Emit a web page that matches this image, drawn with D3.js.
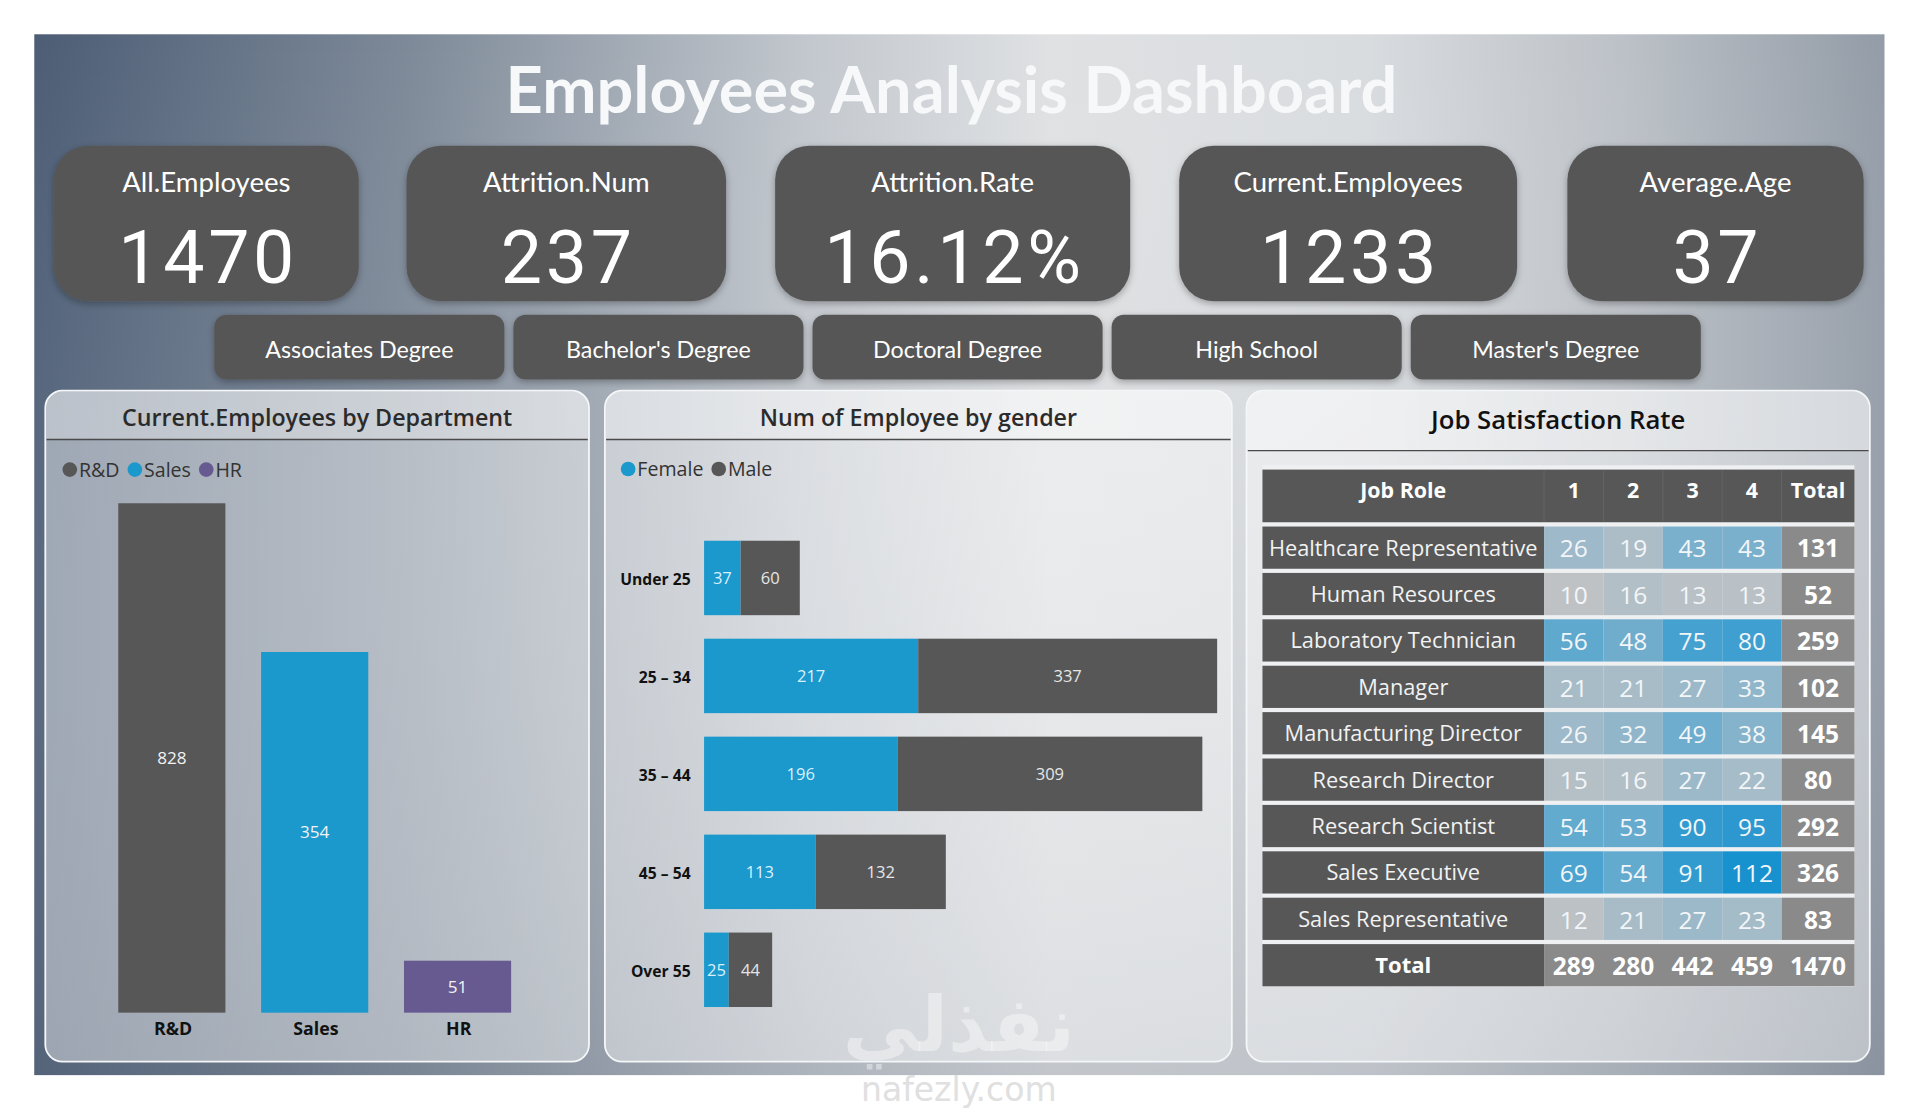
<!DOCTYPE html>
<html>
<head>
<meta charset="utf-8">
<script src="https://cdn.jsdelivr.net/npm/d3@7"></script>
<style>
    html, body { margin: 0; padding: 0; background: #fff; }
    svg { display: block; }
    text { font-family: "Open Sans", "Noto Sans", sans-serif; }
</style>
</head>
<body>
<div id="chart"></div>
<script>
// ---- data ----
const kpiLabels = ['All.Employees', 'Attrition.Num', 'Attrition.Rate', 'Current.Employees', 'Average.Age'];
const kpiValues = ['1470', '237', '16.12%', '1233', '37'];
const degrees = ['Associates Degree', "Bachelor's Degree", 'Doctoral Degree', 'High School', "Master's Degree"];

const departments = ['R&D', 'Sales', 'HR'];
const deptCurrent = [828, 354, 51];

const ageGroups = ['Under 25', '25 – 34', '35 – 44', '45 – 54', 'Over 55'];
const femaleCounts = [37, 217, 196, 113, 25];
const maleCounts = [60, 337, 309, 132, 44];

const jobRoles = ['Healthcare Representative', 'Human Resources', 'Laboratory Technician', 'Manager',
    'Manufacturing Director', 'Research Director', 'Research Scientist', 'Sales Executive', 'Sales Representative'];
const satLevels = ['1', '2', '3', '4'];
const satCounts = [
    [26, 19, 43, 43],
    [10, 16, 13, 13],
    [56, 48, 75, 80],
    [21, 21, 27, 33],
    [26, 32, 49, 38],
    [15, 16, 27, 22],
    [54, 53, 90, 95],
    [69, 54, 91, 112],
    [12, 21, 27, 23]
];

// ---- layout (drawn in the picture's own 1568 wide space, scaled to 1920) ----
const W = 1568, H = 906.5;
const DARK = '#575757', BLUE = '#1b98cc', PURPLE = '#665a91';

const svg = d3.select('#chart').append('svg')
    .attr('width', 1920)
    .attr('height', 1110)
    .attr('viewBox', `0 0 ${W} ${H}`);

const defs = svg.append('defs');
const bg = defs.append('linearGradient').attr('id', 'bg').attr('x1', 0).attr('x2', 1).attr('y1', 0).attr('y2', 0);
[[0, '#4c5d75'], [0.2, '#7d8998'], [0.42, '#c3c8ce'], [0.55, '#dfe1e3'], [0.72, '#d9dcdf'], [0.86, '#bcc1c7'], [1, '#939ca7']]
    .forEach(([o, c]) => bg.append('stop').attr('offset', o).attr('stop-color', c));
const shade = defs.append('linearGradient').attr('id', 'shade').attr('x1', 0).attr('x2', 0).attr('y1', 0).attr('y2', 1);
shade.append('stop').attr('offset', 0).attr('stop-color', '#fff').attr('stop-opacity', 0);
shade.append('stop').attr('offset', 1).attr('stop-color', '#6d7786').attr('stop-opacity', 0.25);

const shadow = defs.append('filter').attr('id', 'shadow').attr('x', -0.1).attr('y', -0.1).attr('width', 1.2).attr('height', 1.3);
shadow.append('feDropShadow').attr('dx', 0).attr('dy', 2).attr('stdDeviation', 3)
    .attr('flood-color', '#000').attr('flood-opacity', 0.3);

svg.append('rect').attr('x', 28).attr('y', 28).attr('width', 1511).attr('height', 850).attr('fill', 'url(#bg)');
svg.append('rect').attr('x', 28).attr('y', 28).attr('width', 1511).attr('height', 850).attr('fill', 'url(#shade)');

svg.append('text')
    .attr('x', 777).attr('y', 92)
    .attr('text-anchor', 'middle')
    .attr('fill', '#f7f8f9')
    .style('font-family', 'Lato, "Open Sans", sans-serif')
    .style('font-weight', 700)
    .style('font-size', '53px')
    .text('Employees Analysis Dashboard');

// ---- KPI cards ----
const kpiBoxes = [{x: 44, w: 249}, {x: 332, w: 261}, {x: 633, w: 290}, {x: 963, w: 276}, {x: 1280, w: 242}];
const cards = svg.append('g').selectAll('g').data(kpiLabels).join('g')
    .attr('transform', (d, i) => `translate(${kpiBoxes[i].x},119)`);
cards.append('rect')
    .attr('width', (d, i) => kpiBoxes[i].w).attr('height', 127).attr('rx', 28)
    .attr('fill', DARK).attr('filter', 'url(#shadow)');
cards.append('text')
    .attr('x', (d, i) => kpiBoxes[i].w / 2).attr('y', 38)
    .attr('text-anchor', 'middle').attr('fill', '#fff')
    .style('font-family', 'Lato, sans-serif').style('font-size', '22.5px')
    .text(d => d);
cards.append('text')
    .attr('x', (d, i) => kpiBoxes[i].w / 2 + 1.5).attr('y', 112)
    .attr('text-anchor', 'middle').attr('fill', '#fff')
    .style('font-family', 'Roboto, Lato, sans-serif').style('font-size', '60px')
    .style('letter-spacing', '3px')
    .text((d, i) => kpiValues[i]);

// ---- degree slicer buttons ----
const degX = d3.scaleBand().domain(degrees).range([175, 1389]).paddingInner(0.03);
const btn = svg.append('g').selectAll('g').data(degrees).join('g')
    .attr('transform', d => `translate(${degX(d)},257)`);
btn.append('rect').attr('width', degX.bandwidth()).attr('height', 53).attr('rx', 10)
    .attr('fill', DARK).attr('filter', 'url(#shadow)');
btn.append('text').attr('x', degX.bandwidth() / 2).attr('y', 35)
    .attr('text-anchor', 'middle').attr('fill', '#fff')
    .style('font-family', 'Lato, sans-serif').style('font-size', '19px')
    .text(d => d);

// ---- panels ----
const panels = [
    {x: 37, w: 444, title: 'Current.Employees by Department', line: 359, ty: 348, fs: 19},
    {x: 494, w: 512, title: 'Num of Employee by gender', line: 359, ty: 348, fs: 19},
    {x: 1018, w: 509, title: 'Job Satisfaction Rate', line: 368, ty: 350, fs: 21}
];
const pg = svg.append('g').selectAll('g').data(panels).join('g')
    .attr('transform', d => `translate(${d.x},319)`);
pg.append('rect').attr('width', d => d.w).attr('height', 548).attr('rx', 14)
    .attr('fill', '#fff').attr('fill-opacity', 0.42)
    .attr('stroke', '#f4f6f8').attr('stroke-width', 1.5);
pg.append('path')
    .attr('d', d => `M1,${d.line - 319} V14 Q1,1 14,1 H${d.w - 14} Q${d.w - 1},1 ${d.w - 1},14 V${d.line - 319} Z`)
    .attr('fill', '#fff').attr('fill-opacity', 0.3);
pg.append('line').attr('x1', 1).attr('x2', d => d.w - 1)
    .attr('y1', d => d.line - 319).attr('y2', d => d.line - 319)
    .attr('stroke', '#4a4a4a').attr('stroke-width', 1.2);
pg.append('text').attr('x', d => d.w / 2).attr('y', d => d.ty - 319)
    .attr('text-anchor', 'middle').attr('fill', d => d.fs > 20 ? '#111' : '#2b2b2b')
    .style('font-weight', 600).style('font-size', d => d.fs + 'px')
    .text(d => d.title);

function legend(items, x0, y) {
    const g = svg.append('g').attr('transform', `translate(${x0},${y})`);
    let x = 0;
    items.forEach(([label, color]) => {
        g.append('circle').attr('cx', x + 6).attr('cy', 0).attr('r', 6).attr('fill', color);
        const t = g.append('text').attr('x', x + 13.5).attr('y', 5.8).attr('fill', '#333')
            .style('font-size', '16px').text(label);
        x += t.node().getComputedTextLength() + 20;
    });
}

// ---- Current.Employees by Department ----
const deptColor = d3.scaleOrdinal().domain(departments).range([DARK, BLUE, PURPLE]);
const dx = d3.scaleBand().domain(departments).range([82, 432]).paddingInner(0.25).paddingOuter(0.125);
const dy = d3.scaleLinear().domain([0, 500]).range([827, 411]).clamp(true);
legend(departments.map(d => [d, deptColor(d)]), 51, 383.5);

const deptG = svg.append('g');
deptG.selectAll('rect').data(departments).join('rect')
    .attr('x', d => dx(d)).attr('width', dx.bandwidth())
    .attr('y', (d, i) => dy(deptCurrent[i])).attr('height', (d, i) => dy(0) - dy(deptCurrent[i]))
    .attr('fill', d => deptColor(d));
deptG.selectAll('text').data(departments).join('text')
    .attr('x', d => dx(d) + dx.bandwidth() / 2)
    .attr('y', (d, i) => (dy(deptCurrent[i]) + dy(0)) / 2 + 5)
    .attr('text-anchor', 'middle').attr('fill', '#f2f2f2')
    .style('font-size', '14px')
    .text((d, i) => deptCurrent[i]);
svg.append('g').attr('transform', 'translate(1,827)')
    .call(d3.axisBottom(dx).tickSize(0).tickPadding(8))
    .call(g => g.select('.domain').remove())
    .call(g => g.selectAll('text').attr('fill', '#111')
        .style('font-family', '"Open Sans", sans-serif').style('font-size', '14.5px').style('font-weight', 700));

// ---- Num of Employee by gender ----
legend([['Female', BLUE], ['Male', DARK]], 507, 383);
const ay = d3.scaleBand().domain(ageGroups).range([432, 832]).paddingInner(0.24).paddingOuter(0.12);
const ax = d3.scaleLinear().domain([0, 520]).range([575, 994]).clamp(true);
const genderRows = ageGroups.map((a, i) => ({age: a, Female: femaleCounts[i], Male: maleCounts[i]}));
const stack = d3.stack().keys(['Female', 'Male'])(genderRows);
const gColor = {Female: BLUE, Male: DARK};
const sg = svg.append('g').selectAll('g').data(stack).join('g');
sg.selectAll('rect').data(s => s.map(p => ({key: s.key, p}))).join('rect')
    .attr('x', d => ax(d.p[0])).attr('width', d => ax(d.p[1]) - ax(d.p[0]))
    .attr('y', d => ay(d.p.data.age)).attr('height', ay.bandwidth())
    .attr('fill', d => gColor[d.key]);
sg.selectAll('text').data(s => s.map(p => ({key: s.key, p}))).join('text')
    .attr('x', d => (ax(d.p[0]) + ax(d.p[1])) / 2)
    .attr('y', d => ay(d.p.data.age) + ay.bandwidth() / 2 + 5)
    .attr('text-anchor', 'middle')
    .attr('fill', d => d.key === 'Female' ? '#d9f1ff' : '#e6e6e6')
    .style('font-size', '13.5px')
    .text(d => d.p.data[d.key]);
svg.append('g').attr('transform', 'translate(575,1.5)')
    .call(d3.axisLeft(ay).tickSize(0).tickPadding(11))
    .call(g => g.select('.domain').remove())
    .call(g => g.selectAll('text').attr('fill', '#111')
        .style('font-family', '"Open Sans", sans-serif').style('font-size', '12.8px').style('font-weight', 700));

// ---- Job Satisfaction Rate table ----
const colX = d3.scaleBand().domain(satLevels).range([1261, 1455]);
const rowY = d3.scaleBand().domain([...jobRoles, 'Total']).range([430, 805.5]).paddingInner(0.09);
const heat = d3.scaleLinear().domain([10, 60, 112]).range(['#bfc2c5', '#57a7d0', '#1891cf']);
const roleX = 1031, roleW = 230, totX = 1455, totW = 59.5;
const rowTotals = satCounts.map(r => d3.sum(r));
const colTotals = satLevels.map((s, j) => d3.sum(satCounts, r => r[j]));
const grand = d3.sum(rowTotals);

const tg = svg.append('g');
tg.append('rect').attr('x', roleX).attr('y', 380).attr('width', totX + totW - roleX).attr('height', 426)
    .attr('fill', '#eef0f2');
// header
tg.append('rect').attr('x', roleX).attr('y', 383.5).attr('width', totX + totW - roleX).attr('height', 43)
    .attr('fill', DARK);
tg.selectAll('line.sep').data(satLevels.concat('T')).join('line').attr('class', 'sep')
    .attr('x1', d => d === 'T' ? totX : colX(d)).attr('x2', d => d === 'T' ? totX : colX(d))
    .attr('y1', 384).attr('y2', 426).attr('stroke', '#626262');
const headStyle = t => t.attr('fill', '#fff').style('font-weight', 700).style('font-size', '17.5px');
tg.append('text').attr('x', roleX + roleW / 2).attr('y', 407).attr('text-anchor', 'middle').text('Job Role').call(headStyle);
tg.selectAll('text.hc').data(satLevels).join('text').attr('class', 'hc')
    .attr('x', d => colX(d) + colX.bandwidth() / 2).attr('y', 407).attr('text-anchor', 'middle')
    .text(d => d).call(headStyle);
tg.append('text').attr('x', totX + totW / 2).attr('y', 407).attr('text-anchor', 'middle').text('Total').call(headStyle);

// body rows
const rows = tg.selectAll('g.row').data(jobRoles).join('g').attr('class', 'row')
    .attr('transform', d => `translate(0,${rowY(d)})`);
const bh = rowY.bandwidth(), mid = bh / 2 + 6.5;
rows.append('rect').attr('x', roleX).attr('width', roleW).attr('height', bh).attr('fill', DARK);
rows.append('text').attr('x', roleX + roleW / 2).attr('y', mid).attr('text-anchor', 'middle')
    .attr('fill', '#f2f2f2').style('font-size', '17.8px').text(d => d);
rows.selectAll('rect.v').data((d, i) => satCounts[i]).join('rect').attr('class', 'v')
    .attr('x', (v, j) => colX(satLevels[j])).attr('width', colX.bandwidth()).attr('height', bh)
    .attr('fill', v => heat(v));
rows.selectAll('text.v').data((d, i) => satCounts[i]).join('text').attr('class', 'v')
    .attr('x', (v, j) => colX(satLevels[j]) + colX.bandwidth() / 2).attr('y', mid + 1.5)
    .attr('text-anchor', 'middle').attr('fill', '#f3f6f8').style('font-size', '20px')
    .text(v => v);
rows.append('rect').attr('x', totX).attr('width', totW).attr('height', bh).attr('fill', '#8a8a8a');
rows.append('text').attr('x', totX + totW / 2).attr('y', mid + 1.5).attr('text-anchor', 'middle')
    .attr('fill', '#fff').style('font-size', '20px').style('font-weight', 700)
    .text((d, i) => rowTotals[i]);

// total row
const ty = rowY('Total');
tg.append('rect').attr('x', roleX).attr('y', ty).attr('width', roleW).attr('height', bh).attr('fill', DARK);
tg.append('rect').attr('x', colX('1')).attr('y', ty).attr('width', totX + totW - colX('1')).attr('height', bh).attr('fill', '#8a8a8a');
tg.append('text').attr('x', roleX + roleW / 2).attr('y', ty + mid).attr('text-anchor', 'middle')
    .attr('fill', '#fff').style('font-size', '18px').style('font-weight', 700).text('Total');
tg.selectAll('text.ct').data(colTotals.concat(grand)).join('text').attr('class', 'ct')
    .attr('x', (v, j) => j < 4 ? colX(satLevels[j]) + colX.bandwidth() / 2 : totX + totW / 2)
    .attr('y', ty + mid + 1.5).attr('text-anchor', 'middle')
    .attr('fill', '#fff').style('font-size', '20px').style('font-weight', 700)
    .text(v => v);

// ---- watermark ----
svg.append('text').attr('x', 783).attr('y', 858).attr('text-anchor', 'middle')
    .attr('fill', '#fff').attr('fill-opacity', 0.4)
    .style('font-family', '"DejaVu Sans", sans-serif').style('font-size', '62px').style('font-weight', 700)
    .text('نفذلي');
svg.append('text').attr('x', 783).attr('y', 899).attr('text-anchor', 'middle')
    .attr('fill', '#e0e0e0')
    .style('font-family', '"DejaVu Sans", sans-serif').style('font-size', '27px')
    .text('nafezly.com');
</script>
</body>
</html>
